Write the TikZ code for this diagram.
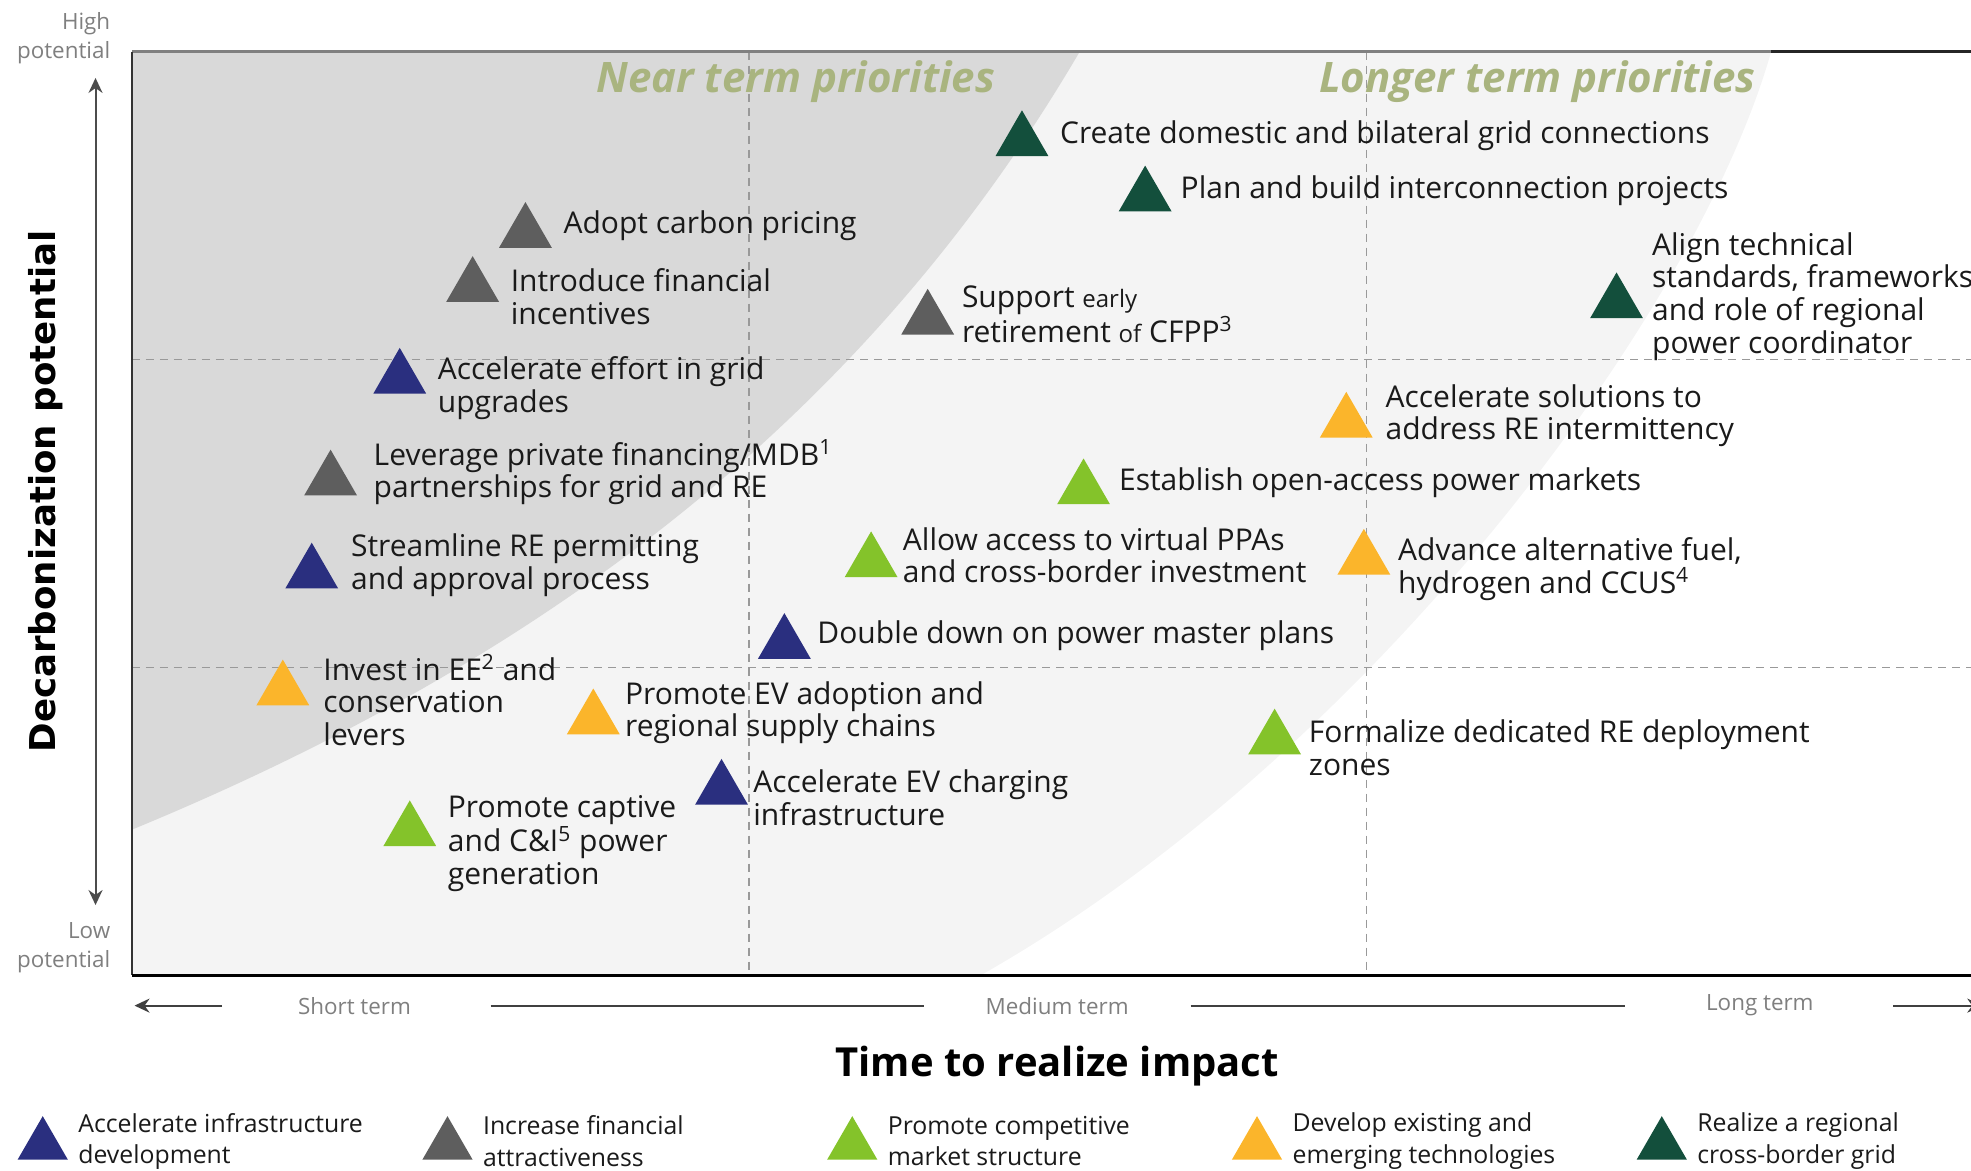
\documentclass[tikz,border=0pt]{standalone}
\usepackage{fontspec}
\setmainfont{Open Sans}
\newfontfamily\axisfont{DejaVu Sans}
\usepackage{xcolor}
\usepackage{tikz}
\usetikzlibrary{positioning, arrows.meta, shapes.geometric, calc}
\definecolor{infrablue}{HTML}{2A2F7F}
\definecolor{financegray}{HTML}{5E5E5E}
\definecolor{marketgreen}{HTML}{84C32A}
\definecolor{techorange}{HTML}{FBB52B}
\definecolor{gridgreen}{HTML}{134F3C}
\definecolor{nearshade}{HTML}{D9D9D9}
\definecolor{longshade}{HTML}{F4F4F4}
\definecolor{titleolive}{HTML}{A9B47F}
\definecolor{axisgray}{HTML}{7F7F7F}
\definecolor{textblack}{HTML}{1A1A1A}

\newcommand{\leverfont}{\fontsize{15}{16.3}\selectfont}
\newcommand{\earlyfont}{\fontsize{12}{16.3}\selectfont}
\newcommand{\legendfont}{\fontsize{12.4}{15.7}\selectfont}
\newcommand{\tickfont}{\fontsize{11.2}{14.5}\selectfont}
\newcommand{\titlefont}{\fontsize{21}{24}\selectfont\bfseries\itshape}
\newcommand{\bigbold}{\fontsize{20}{24}\selectfont\bfseries}
\newcommand{\ylabelfont}{\axisfont\fontsize{17.8}{20}\selectfont\bfseries}

\begin{document}
\begin{tikzpicture}[x=0.6285pt, y=-0.6285pt, >={Stealth[length=7.5pt, width=7pt]},
    tri/.style={regular polygon, regular polygon sides=3, fill=#1, inner sep=0pt, minimum size=30.5pt},
    lever/.style={anchor=west, align=left, inner sep=0pt, yshift=-1.8pt, text=textblack, font=\leverfont},
    legendtext/.style={anchor=west, align=left, inner sep=0pt, yshift=-1.8pt, text=textblack, font=\legendfont},
    termlabel/.style={text=axisgray, font=\tickfont, inner sep=0pt},
    quadline/.style={dash pattern=on 4pt off 3pt, black!40, line width=0.7pt},
    timeline/.style={black!75, line width=1.1pt}]
    \useasboundingbox (0,0) rectangle (1568,931);

    % Shading
    \fill[longshade] (105,41) -- (1409,41) .. controls (1350,250) and (1090,600) .. (780,776) -- (105,776) -- cycle;
    \fill[nearshade] (105,41) -- (859,41) .. controls (689,331) and (435,524) .. (105,660) -- cycle;

    % Quadrants
    \draw[quadline] (105,286) -- (1568,286);
    \draw[quadline] (105,531) -- (1568,531);
    \draw[quadline] (596,41) -- (596,776);
    \draw[quadline] (1087,41) -- (1087,776);
    \draw[line width=1.1pt, black!50] (1409,41) -- (105,41);
    \draw[line width=1.1pt, black!85] (1409,41) -- (1568,41);
    \draw[line width=1.1pt, black!80] (105,41) -- (105,776);
    \draw[line width=1.6pt] (105,776) -- (1568,776);

    % Headings
    \node[font=\titlefont, text=titleolive] (near) at (633,65) {Near term priorities};
    \node[font=\titlefont, text=titleolive] (longer) at (1223,65) {Longer term priorities};

    % Levers
    \node[tri=gridgreen] (t1) at (813,112) {};
    \node[lever] (l1) at (843,105) {Create domestic and bilateral grid connections};
    \node[tri=gridgreen] (t2) at (911,156) {};
    \node[lever] (l2) at (939,149) {Plan and build interconnection projects};
    \node[tri=financegray] (t3) at (418,185) {};
    \node[lever] (l3) at (448,177) {Adopt carbon pricing};
    \node[tri=financegray] (t4) at (376,228) {};
    \node[lever] (l4) at (406,233) {Introduce financial\\incentives};
    \node[tri=financegray] (t5) at (738,254) {};
    \node[lever] (l5) at (765,247) {Support {\earlyfont early}\\retirement {\earlyfont of} CFPP\textsuperscript{3}};
    \node[tri=gridgreen] (t6) at (1286,241) {};
    \node[lever] (l6) at (1314,233) {Align technical\\standards, frameworks,\\and role of regional\\power coordinator};
    \node[tri=infrablue] (t7) at (318,301) {};
    \node[lever] (l7) at (348,306) {Accelerate effort in grid\\upgrades};
    \node[tri=techorange] (t8) at (1071,336) {};
    \node[lever] (l8) at (1102,328) {Accelerate solutions to\\address RE intermittency};
    \node[tri=financegray] (t9) at (263,382) {};
    \node[lever] (l9) at (297,373) {Leverage private financing/MDB\textsuperscript{1}\\partnerships for grid and RE};
    \node[tri=marketgreen] (t10) at (862,389) {};
    \node[lever] (l10) at (890,381) {Establish open-access power markets};
    \node[tri=infrablue] (t11) at (248,456) {};
    \node[lever] (l11) at (279,447) {Streamline RE permitting\\and approval process};
    \node[tri=marketgreen] (t12) at (693,447) {};
    \node[lever] (l12) at (718,439) {Allow access to virtual PPAs\\and cross-border investment};
    \node[tri=techorange] (t13) at (1085,445) {};
    \node[lever] (l13) at (1112,450) {Advance alternative fuel,\\hydrogen and CCUS\textsuperscript{4}};
    \node[tri=infrablue] (t14) at (624,512) {};
    \node[lever] (l14) at (650,503) {Double down on power master plans};
    \node[tri=techorange] (t15) at (225,549) {};
    \node[lever] (l15) at (257,554) {Invest in EE\textsuperscript{2} and\\conservation\\levers};
    \node[tri=techorange] (t16) at (472,572) {};
    \node[lever] (l16) at (497,564) {Promote EV adoption and\\regional supply chains};
    \node[tri=marketgreen] (t17) at (1014,588) {};
    \node[lever] (l17) at (1041,592) {Formalize dedicated RE deployment\\zones};
    \node[tri=infrablue] (t18) at (574,628) {};
    \node[lever] (l18) at (599,632) {Accelerate EV charging\\infrastructure};
    \node[tri=marketgreen] (t19) at (326,661) {};
    \node[lever] (l19) at (356,668) {Promote captive\\and C\&I\textsuperscript{5} power\\generation};

    % Y axis
    \node[termlabel, anchor=east, align=right] (hp) at (88,30) {High\\potential};
    \node[termlabel, anchor=east, align=right] (lp) at (88,754) {Low\\potential};
    \coordinate (ytop) at (76,62);
    \coordinate (ybot) at (76,720);
    \draw[<->, black!70, line width=1pt] (ytop) -- (ybot);
    \node[rotate=90, font=\ylabelfont] (ylab) at (36,391) {Decarbonization potential};

    % X axis
    \node[termlabel] (short) at (282,800) {Short term};
    \node[termlabel] (medium) at (841,800) {Medium term};
    \node[termlabel] (long) at (1400,800) {Long term};
    \coordinate (tleft) at (107,800);
    \coordinate (tright) at (1577,800);
    \draw[timeline, ->] ([xshift=-37.7pt]short.west) -- (tleft);
    \draw[timeline] ([xshift=39.6pt]short.east) -- ([xshift=-30.8pt]medium.west);
    \draw[timeline] ([xshift=30.8pt]medium.east) -- ([xshift=-40.2pt]long.west);
    \draw[timeline, ->] ([xshift=39.6pt]long.east) -- (tright);
    \node[font=\bigbold] (xlab) at (841,848) {Time to realize impact};

    % Legend
    \node[tri=infrablue, minimum size=29pt] (k1) at (34,911) {};
    \node[legendtext] (k1t) at (62,905) {Accelerate infrastructure\\development};
    \node[tri=financegray, minimum size=29pt] (k2) at (356,911) {};
    \node[legendtext] (k2t) at (384,905) {Increase financial\\attractiveness};
    \node[tri=marketgreen, minimum size=29pt] (k3) at (678,911) {};
    \node[legendtext] (k3t) at (706,905) {Promote competitive\\market structure};
    \node[tri=techorange, minimum size=29pt] (k4) at (1000,911) {};
    \node[legendtext] (k4t) at (1028,905) {Develop existing and\\emerging technologies};
    \node[tri=gridgreen, minimum size=29pt] (k5) at (1322,911) {};
    \node[legendtext] (k5t) at (1350,905) {Realize a regional\\cross-border grid};
\end{tikzpicture}
\end{document}
